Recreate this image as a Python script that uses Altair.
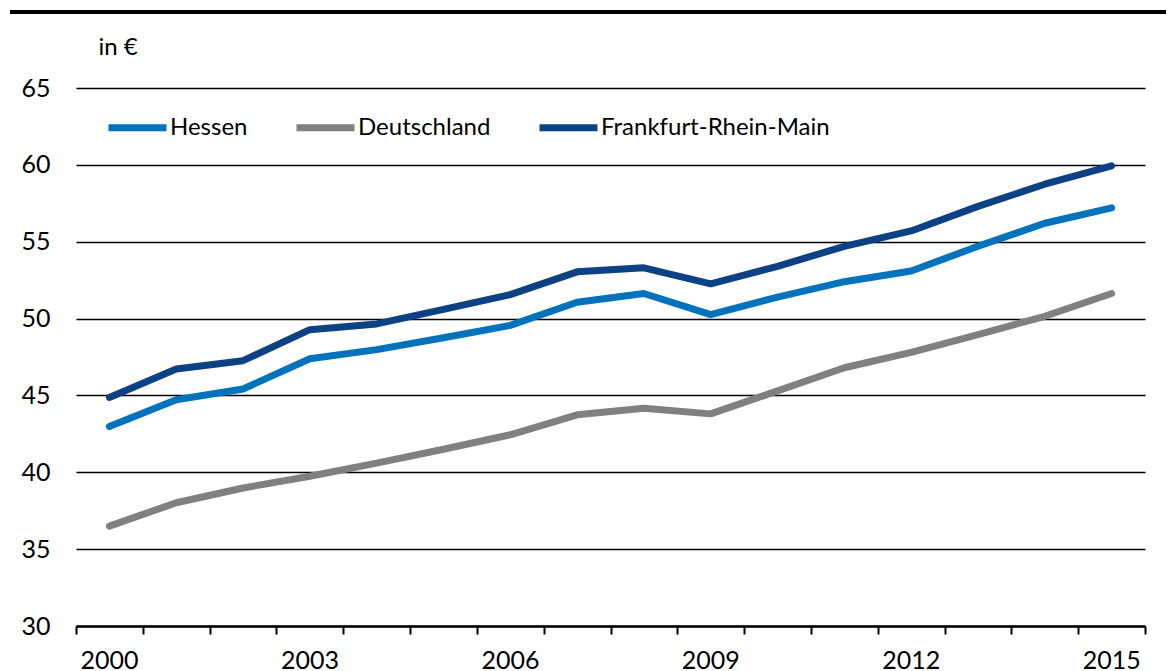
import altair as alt
import pandas as pd

years = list(range(2000, 2016))
hessen = [42.98, 44.72, 45.42, 47.39, 47.98, 48.75, 49.56, 51.06, 51.63, 50.26, 51.4, 52.4, 53.1, 54.7, 56.2, 57.2]
deutschland = [36.5, 38.02, 38.98, 39.74, 40.6, 41.5, 42.44, 43.74, 44.17, 43.8, 45.3, 46.8, 47.8, 48.96, 50.15, 51.63]
frankfurt = [44.87, 46.72, 47.26, 49.28, 49.65, 50.6, 51.56, 53.04, 53.3, 52.26, 53.4, 54.7, 55.7, 57.3, 58.74, 59.93]

series = ["Hessen", "Deutschland", "Frankfurt-Rhein-Main"]
colors = ["#0073BC", "#808080", "#0C4183"]
y_ticks = [30, 35, 40, 45, 50, 55, 60, 65]
x_ticks = [y - 0.5 for y in years] + [years[-1] + 0.5]

rows = []
for name, vals in zip(series, [hessen, deutschland, frankfurt]):
    for yr, v in zip(years, vals):
        rows.append({"Jahr": yr, "Wert": v, "Reihe": name})
df = pd.DataFrame(rows)

FONT = "Lato"
W, H = 1069, 538

lines = alt.Chart(df).mark_line(strokeWidth=7, strokeCap="round", strokeJoin="round").encode(
    x=alt.X("Jahr:Q",
            scale=alt.Scale(domain=[years[0] - 0.5, years[-1] + 0.5], nice=False, zero=False),
            axis=alt.Axis(values=x_ticks, title=None, grid=False,
                          domainColor="black", domainWidth=2.5,
                          tickColor="black", tickWidth=2, tickSize=8,
                          labelExpr="((datum.value + 0.5) % 3 == 2 && datum.value < 2015) ? format(datum.value + 0.5, 'd') : ''",
                          labelOffset=33, labelPadding=14, labelFlush=False,
                          labelOverlap=False, labelFontSize=25, labelFont=FONT,
                          labelColor="black")),
    y=alt.Y("Wert:Q",
            scale=alt.Scale(domain=[30, 65], nice=False, zero=False),
            axis=alt.Axis(values=y_ticks, title="in €", titleAngle=0, titleAlign="left",
                          titleBaseline="middle", titleX=22, titleY=-41,
                          titleFont=FONT, titleFontSize=24, titleFontWeight="normal",
                          titleColor="black",
                          grid=True, gridColor="black", gridWidth=1.6, gridOpacity=1,
                          domain=False, ticks=False, labelPadding=26,
                          labelFontSize=25, labelFont=FONT, labelColor="black")),
    color=alt.Color("Reihe:N",
                    scale=alt.Scale(domain=series, range=colors),
                    legend=alt.Legend(orient="none", legendX=29, legendY=7,
                                      direction="horizontal", title=None,
                                      symbolType="stroke", symbolSize=3364,
                                      symbolStrokeWidth=7, labelFont=FONT,
                                      labelFontSize=24, labelColor="black",
                                      labelLimit=400,
                                      labelOffset=0, columnPadding=34, padding=0,
                                      labelBaseline="middle")),
)

topline = alt.Chart(pd.DataFrame({"a": [0]})).mark_rule(color="black", strokeWidth=4).encode(
    x=alt.value(-66), x2=alt.value(1100), y=alt.value(-76)
)

chart = alt.layer(lines, topline).properties(
    width=W, height=H,
    autosize=alt.AutoSizeParams(type="none"),
    padding={"left": 68, "top": 80, "right": 21, "bottom": 45},
).configure(background="white").configure_view(stroke=None)

chart.save("out.html", embed_options={"renderer": "svg", "actions": False})
